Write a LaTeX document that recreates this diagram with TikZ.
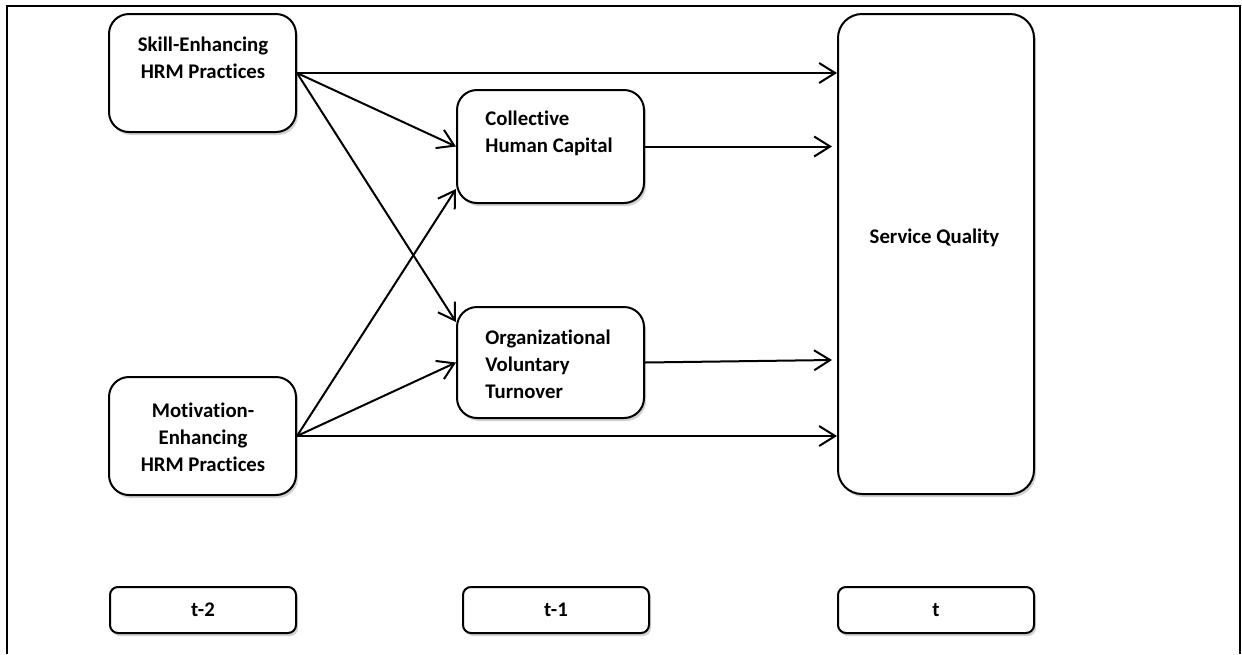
\documentclass[tikz,border=0pt]{standalone}
\usepackage{fontspec}
\setmainfont{Carlito}[Ligatures=NoCommon]
\usetikzlibrary{arrows.meta,shadows,calc}
\begin{document}
\begin{tikzpicture}[x=0.5pt,y=-0.5pt,
  shad/.style={drop shadow={shadow xshift=1pt,shadow yshift=-1.5pt,fill=black,opacity=0.18}},
  bigbox/.style={draw,line width=1pt,fill=white,rounded corners=10pt,inner sep=0pt,shad},
  timebox/.style={draw,line width=1pt,fill=white,rounded corners=4pt,inner sep=0pt,minimum height=23pt,shad,
    font=\bfseries\fontsize{10.4}{13.5}\selectfont},
  lbl/.style={inner sep=0pt,font=\bfseries\fontsize{10.4}{13.5}\selectfont},
  arr/.style={line width=1pt,-{Straight Barb[length=8pt,width=10pt,line width=1pt]}},
  frame/.style={line width=1.2pt}]
\useasboundingbox (0,0) rectangle (1242,654);
\coordinate (fbl) at (7,654);
\coordinate (ftl) at (7,6);
\coordinate (ftr) at (1240,6);
\coordinate (fbr) at (1240,654);
\draw[frame] (fbl) -- (ftl) -- (ftr) -- (fbr);

\node[bigbox,minimum width=93.5pt,minimum height=59pt] (skill) at (202.5,73) {};
\node[lbl,align=center] (skillt) at (203,57.5) {Skill-Enhancing\\HRM Practices};

\node[bigbox,minimum width=93.5pt,minimum height=59pt] (motiv) at (202.5,436) {};
\node[lbl,align=center] (motivt) at (203,437) {Motivation-\\Enhancing\\HRM Practices};

\node[bigbox,minimum width=93.5pt,minimum height=56.5pt] (coll) at (550.5,146.5) {};
\node[lbl,align=left,anchor=west] (collt) at (485,133) {Collective\\Human Capital};

\node[bigbox,minimum width=93.5pt,minimum height=55.5pt] (org) at (550.5,362.5) {};
\node[lbl,align=left,anchor=west] (orgt) at (485,364) {Organizational\\Voluntary\\Turnover};

\node[bigbox,rounded corners=12pt,minimum width=98pt,minimum height=240pt] (sq) at (936,254) {};
\node[lbl] (sqt) at (934.5,238) {Service Quality};

\node[timebox,minimum width=93pt] (t2) at (203,610) {t-2};
\node[timebox,minimum width=93pt] (t1) at (556,610) {t-1};
\node[timebox,minimum width=98pt] (t0) at (936,610) {t};

\draw[arr] (skill.east) -- (sq.west |- skill.east);
\draw[arr] (skill.east) -- (coll.west);
\draw[arr] (skill.east) -- ($(org.north west)+(0,16)$);
\draw[arr] (motiv.east) -- ($(coll.south west)+(0,-15)$);
\draw[arr] (motiv.east) -- (org.west);
\draw[arr] (motiv.east) -- (sq.west |- motiv.east);
\draw[arr] (coll.east) -- ($(sq.west |- coll.east)+(-5,0)$);
\draw[arr] (org.east) -- ($(sq.west |- org.east)+(-5,-2.5)$);
\end{tikzpicture}
\end{document}
